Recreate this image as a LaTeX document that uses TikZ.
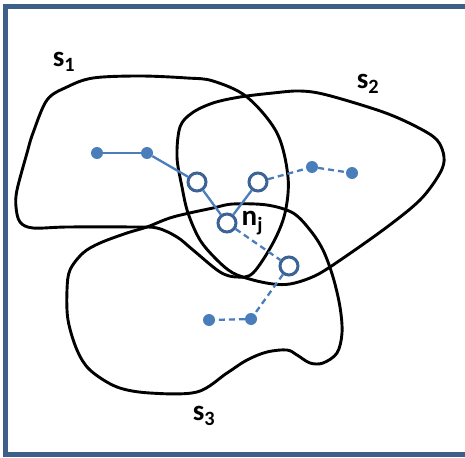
\documentclass[tikz,border=0pt]{standalone}
\usepackage{fontspec}
\setmainfont{Carlito}
\usepackage{tikz}
\usetikzlibrary{positioning}
\definecolor{framebl}{HTML}{3E5F8A}
\definecolor{ringbl}{HTML}{3C6395}
\definecolor{dotbl}{HTML}{4A7EBB}

\begin{document}
\begin{tikzpicture}[
  x=1pt, y=-1pt,
  blob/.style={line width=2.9pt, black},
  dot/.style={circle, fill=dotbl, minimum size=12pt, inner sep=0pt},
  ring/.style={circle, draw=ringbl, line width=3pt, fill=white, minimum size=18pt, inner sep=0pt},
  link/.style={dotbl, line width=2.3pt},
  dlink/.style={link, dash pattern=on 6pt off 4pt},
  lab/.style={font=\fontsize{29}{30}\selectfont\bfseries, inner sep=0pt}
]
  \useasboundingbox (0,0) rectangle (465,457);
  \clip (0,0) rectangle (465,457);
  \draw[framebl, line width=5pt] (5,7) rectangle (480,454.5);
  % the three sets
  \draw[blob] plot[smooth cycle, tension=0.55] coordinates {
    (33,133) (47,100) (67,87) (93,78) (140,76) (187,78) (213,81) (247,97)
    (277,133) (288,177) (285,213) (273,243) (253,273) (237,277) (220,272)
    (193,250) (177,237) (157,228) (133,227) (67,227) (33,228) (20,222)
    (16,207) (17,190) (27,153)};
  \draw[blob] plot[smooth cycle, tension=0.55] coordinates {
    (180,127) (192,113) (213,103) (240,97) (273,93) (300,91) (327,95)
    (383,112) (417,127) (437,140) (444,157) (440,173) (420,200) (383,230)
    (330,267) (310,278) (290,284) (273,284) (253,280) (233,273) (217,260)
    (200,240) (188,213) (182,187) (177,157)};
  \draw[blob] plot[smooth cycle, tension=0.55] coordinates {
    (147,227) (173,217) (213,208) (233,204) (267,205) (293,213) (310,230)
    (323,250) (333,277) (340,307) (342,333) (337,353) (323,363) (310,363)
    (297,355) (287,350) (267,352) (247,360) (227,373) (197,392) (150,393)
    (117,387) (90,370) (77,350) (68,320) (67,290) (70,270) (83,253)
    (100,243) (127,233)};
  % labels
  \node[lab] (s1) at (64,62) {s$_{\mathbf{1}}$};
  \node[lab] (s2) at (368,84) {s$_{\mathbf{2}}$};
  \node[lab] (s3) at (204,416) {s$_{\mathbf{3}}$};
  % network
  \node[dot] (d1) at (97,153) {};
  \node[dot] (d2) at (147,153) {};
  \node[dot] (d3) at (312,167) {};
  \node[dot] (d4) at (352,173) {};
  \node[dot] (d5) at (209,320) {};
  \node[dot] (d6) at (251,319) {};
  \node[ring] (r1) at (197,182) {};
  \node[ring] (r2) at (258,182) {};
  \node[ring] (nj) at (227,223) {};
  \node[ring] (r3) at (289,266) {};
  \node[lab, right=4pt of nj] (njlab) {n$_{\mathbf{j}}$};
  \draw[link] (d1) -- (d2);
  \draw[link] (d2) -- (r1);
  \draw[link] (r1) -- (nj);
  \draw[link] (r2) -- (nj);
  \draw[dlink] (r2) -- (d3);
  \draw[dlink] (d3) -- (d4);
  \draw[dlink] (nj) -- (r3);
  \draw[dlink] (r3) -- (d6);
  \draw[dlink] (d6) -- (d5);
\end{tikzpicture}
\end{document}
